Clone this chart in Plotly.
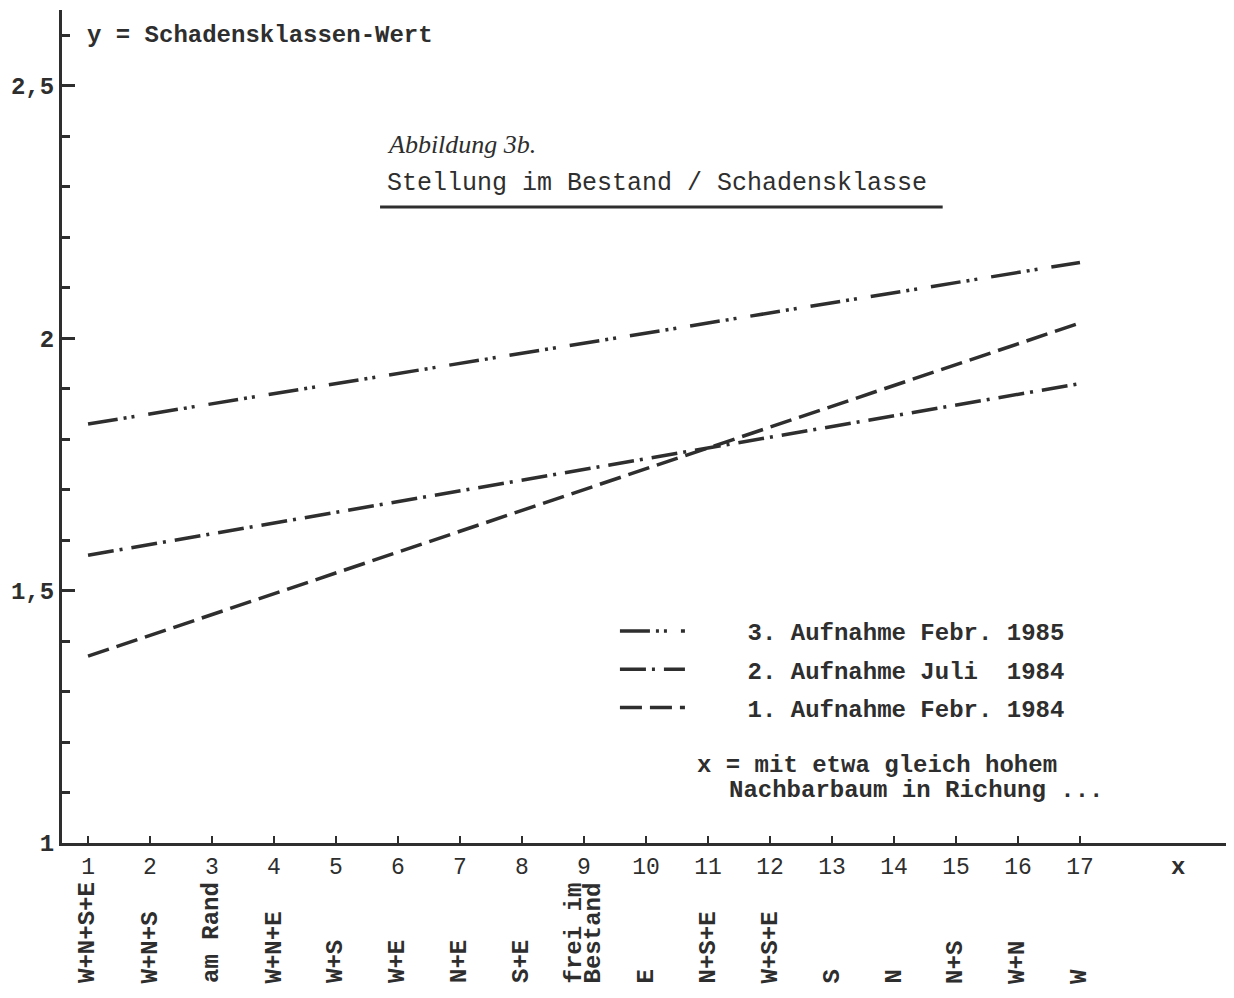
import plotly.graph_objects as go

# ---------------- data ----------------
x_positions = list(range(1, 18))
x_tick_text = [str(i) for i in x_positions]
categories = ["W+N+S+E", "W+N+S", "am Rand", "W+N+E", "W+S", "W+E", "N+E", "S+E",
              "frei im|Bestand", "E", "N+S+E", "W+S+E", "S", "N", "N+S", "W+N", "W"]

line_x = [1, 17]
series_names = ["3. Aufnahme Febr. 1985", "2. Aufnahme Juli\u00a0\u00a01984", "1. Aufnahme Febr. 1984"]
y_aufnahme3 = [1.83, 2.15]
y_aufnahme2 = [1.57, 1.91]
y_aufnahme1 = [1.37, 2.03]

y_tick_vals = [1, 1.5, 2, 2.5]
y_tick_text = ["1", "1,5", "2", "2,5"]

# ---------------- style ----------------
INK = "#2e2e2e"
MONO = "Liberation Mono"
SERIF = "Liberation Serif"
PAD = "\u00a0" * 4

fig = go.Figure()

dashes = ["30px,6px,3px,5px,3px,14px", "26px,6px,3px,9px", "22px,8px"]
series_y = [y_aufnahme3, y_aufnahme2, y_aufnahme1]
for i, (name, ys) in enumerate(zip(series_names, series_y)):
    fig.add_trace(go.Scatter(
        x=line_x, y=ys, mode="lines", name=f"<b>{PAD}{name}</b>", legendgroup=f"g{i}",
        line=dict(color=INK, width=3.5, dash=dashes[i]),
        showlegend=True,
    ))

annotations = []
# y-axis label
annotations.append(dict(text="<b>y = Schadensklassen-Wert</b>", xref="paper", yref="y",
                        x=0.0197, y=2.6, xanchor="left", yanchor="middle", showarrow=False,
                        font=dict(family=MONO, size=24, color=INK)))
# titles
annotations.append(dict(text="<i>Abbildung 3b.</i>", xref="paper", yref="paper",
                        x=0.2765, y=0.838, xanchor="left", yanchor="middle", showarrow=False,
                        font=dict(family=SERIF, size=26, color=INK)))
annotations.append(dict(text="Stellung im Bestand / Schadensklasse", xref="paper", yref="paper",
                        x=0.2765, y=0.792, xanchor="left", yanchor="middle", showarrow=False,
                        font=dict(family=MONO, size=25, color=INK)))
# note
annotations.append(dict(text="<b>x = mit etwa gleich hohem</b>", xref="paper", yref="paper",
                        x=0.542, y=0.0936, xanchor="left", yanchor="middle", showarrow=False,
                        font=dict(family=MONO, size=24, color=INK)))
annotations.append(dict(text="<b>Nachbarbaum in Richung ...</b>", xref="paper", yref="paper",
                        x=0.569, y=0.0636, xanchor="left", yanchor="middle", showarrow=False,
                        font=dict(family=MONO, size=24, color=INK)))
# x label
annotations.append(dict(text="<b>x</b>", xref="x", yref="paper", x=18.58, y=-0.029,
                        xanchor="center", yanchor="middle", showarrow=False,
                        font=dict(family=MONO, size=24, color=INK)))
# rotated category labels
for xp, cat in zip(x_positions, categories):
    parts = cat.split("|")
    n = len(parts)
    for k, part in enumerate(parts):
        shift = (k - (n - 1) / 2) * 19
        annotations.append(dict(text=f"<b>{part}</b>", xref="x", yref="paper", x=xp, y=-0.171,
                                xanchor="center", yanchor="bottom", textangle=-90, showarrow=False,
                                xshift=shift,
                                font=dict(family=MONO, size=24, color=INK)))

fig.update_layout(
    width=1226, height=990,
    margin=dict(l=54, r=4, t=2, b=155),
    paper_bgcolor="white", plot_bgcolor="white",
    annotations=annotations,
    shapes=[dict(type="line", xref="paper", yref="paper", x0=0.2723, x1=0.754, y0=0.7635, y1=0.7635,
                 line=dict(color=INK, width=3))],
    legend=dict(x=0.4734, y=0.281, xanchor="left", yanchor="top", bgcolor="rgba(0,0,0,0)",
                font=dict(family=MONO, size=24, color=INK), itemwidth=65, tracegroupgap=4,
                traceorder="grouped"),
    xaxis=dict(range=[0.58, 19.42], showgrid=False, zeroline=False, showline=True,
               linecolor=INK, linewidth=3, ticks="inside", ticklen=7, tickwidth=2, tickcolor=INK,
               tickvals=x_positions, ticktext=x_tick_text, ticklabelstandoff=0,
               tickfont=dict(family=MONO, size=23, color=INK)),
    yaxis=dict(range=[1, 2.65], showgrid=False, zeroline=False, showline=True,
               linecolor=INK, linewidth=3, ticks="inside", ticklen=13, tickwidth=2.5, tickcolor=INK,
               tickvals=y_tick_vals, ticktext=[f"<b>{t}</b>" for t in y_tick_text],
               tickfont=dict(family=MONO, size=24, color=INK),
               minor=dict(dtick=0.1, ticks="inside", ticklen=8, tickwidth=2.5, tickcolor=INK, showgrid=False)),
    showlegend=True,
)

fig.write_html("out.html")
